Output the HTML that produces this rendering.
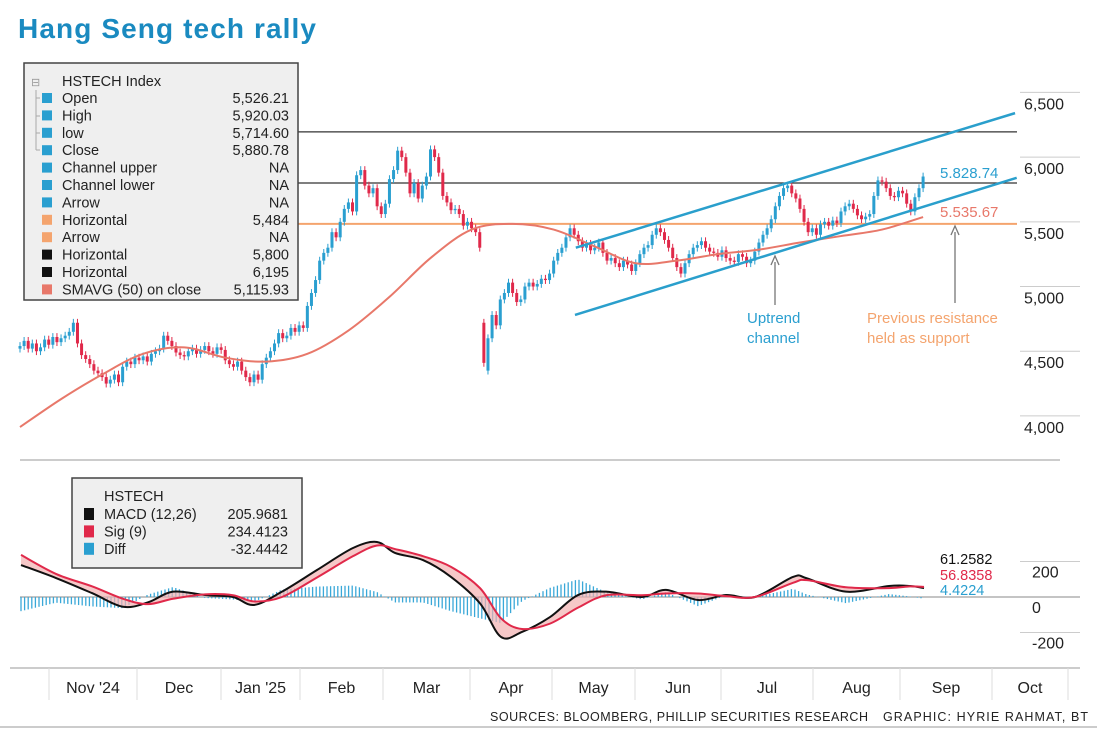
<!DOCTYPE html>
<html><head><meta charset="utf-8">
<style>
html,body{margin:0;padding:0;background:#fff;}
body{width:1097px;height:731px;overflow:hidden;font-family:"Liberation Sans",sans-serif;}
svg text{font-family:"Liberation Sans",sans-serif;}
</style></head>
<body>
<svg id="chart" width="1097" height="731" viewBox="0 0 1097 731" xmlns="http://www.w3.org/2000/svg">
<text x="18" y="38" font-size="28" font-weight="bold" fill="#1a8ac0" textLength="298">Hang Seng tech rally</text>
<g id="grid"></g>
<g id="price"></g>
<g id="macd"></g>
<g id="axes"></g>
<g id="legend"></g>
<g id="legend2"></g>
<text x="490" y="721" font-size="12.5" fill="#222" textLength="378">SOURCES: BLOOMBERG, PHILLIP SECURITIES RESEARCH</text>
<text x="883" y="721" font-size="12.5" fill="#222" textLength="205">GRAPHIC: HYRIE RAHMAT, BT</text>
</svg>
<script>
const closes=[4540,4580,4520,4560,4500,4530,4590,4550,4610,4570,
4600,4620,4650,4720,4560,4470,4440,4400,4350,4330,
4300,4250,4280,4320,4260,4380,4420,4400,4450,4430,
4460,4420,4480,4500,4520,4620,4580,4540,4490,4470,
4460,4500,4520,4480,4510,4540,4500,4480,4530,4510,
4430,4400,4380,4420,4350,4300,4260,4320,4280,4400,
4450,4500,4560,4640,4600,4620,4680,4650,4700,4680,
4850,4950,5050,5200,5260,5300,5420,5380,5500,5600,
5650,5580,5860,5900,5780,5720,5760,5620,5560,5640,
5830,5900,6050,6000,5880,5720,5800,5680,5780,5850,
6060,6000,5880,5700,5650,5590,5600,5560,5470,5500,
5450,5420,5300,4410,4600,4780,4700,4900,4950,5030,
4950,4880,4900,5000,5030,5000,5020,5060,5050,5100,
5200,5260,5300,5380,5450,5400,5350,5300,5330,5280,
5300,5340,5260,5200,5220,5180,5150,5200,5170,5120,
5180,5250,5300,5320,5400,5450,5420,5360,5300,5220,
5150,5100,5180,5250,5300,5320,5350,5300,5270,5260,
5230,5280,5220,5200,5190,5250,5230,5180,5200,5270,
5340,5400,5450,5520,5620,5700,5760,5780,5720,5680,
5600,5500,5420,5450,5400,5480,5500,5470,5510,5490,
5580,5620,5640,5600,5550,5520,5540,5560,5700,5820,
5810,5760,5700,5690,5740,5720,5640,5580,5690,5760,5850];
const firstOpen=4520;
const gapIdx=[113,114];
const gapOpens=[4720,4350];
const smaIdx=[0,10,20,30,40,50,60,70,80,90,100,110,120,130,140,150,160,170,180,190,200,210,220];
const smaVals=[3914,4130,4320,4480,4530,4450,4420,4480,4660,4920,5220,5440,5484,5440,5310,5180,5200,5250,5285,5340,5390,5440,5537];
const horizLevels=[6195,5800];
const supportLevel=5484;
const chanUpper=[[135.4,5300],[242.4,6340]];
const chanLower=[[135.2,4780],[242.8,5840]];
const priceTicks=[6500,6000,5500,5000,4500,4000];
const priceTickLabels=["6,500","6,000","5,500","5,000","4,500","4,000"];
const macdX=[21,56,92,123,148,173,205,233,254,282,317,353,377,395,423,451,480,501,522,550,578,606,642,666,698,726,755,793,807,846,889,910,924];
const macdVals=[180,107,22,-55,-30,30,11,0,-45,30,152,276,310,248,208,113,-36,-225,-197,-113,11,30,0,40,-17,11,0,113,105,30,62,62,50];
const sigVals=[237,130,60,-10,-40,-10,15,10,-25,0,110,230,290,270,230,170,50,-120,-180,-150,-60,10,10,20,20,5,0,80,95,55,50,60,57];
const macdTicks=[200,0,-200];
const monthBounds=[49,137,221,300,383,470,552,635,721,813,900,992,1068];
const monthLabels=["Nov '24","Dec","Jan '25","Feb","Mar","Apr","May","Jun","Jul","Aug","Sep","Oct"];

const NS="http://www.w3.org/2000/svg";
const xI=i=>20+i*4.105;
const yP=v=>183-(v-5800)*0.1294;
const yM=v=>597-v*0.1775;
function mk(tag,attrs,parent,text){const e=document.createElementNS(NS,tag);for(const k in attrs)e.setAttribute(k,attrs[k]);if(text!==undefined)e.textContent=text;parent.appendChild(e);return e;}
const grid=document.getElementById('grid'),price=document.getElementById('price'),macd=document.getElementById('macd'),axes=document.getElementById('axes');

let l=mk('line',{x1:20,y1:460,x2:1060,y2:460,stroke:'#bbb','stroke-width':1.5},grid);


priceTicks.forEach((v,k)=>{
 let g=mk('line',{x1:1020,y1:yP(v),x2:1080,y2:yP(v),stroke:'#ccc','stroke-width':1},grid);
 
 
 let t=mk('text',{x:1024,y:yP(v)+17,'font-size':16,fill:'#222'},axes,priceTickLabels[k]);
 
 
});
horizLevels.forEach(v=>{
 let h=mk('line',{x1:24,y1:yP(v),x2:1017,y2:yP(v),stroke:'#333','stroke-width':1.3},price);
 
 
});
let s=mk('line',{x1:24,y1:yP(supportLevel),x2:1017,y2:yP(supportLevel),stroke:'#f4a46e','stroke-width':2},price);


function smooth(pts){let d=`M${pts[0][0]},${pts[0][1]}`;for(let i=0;i<pts.length-1;i++){const p0=pts[Math.max(0,i-1)],p1=pts[i],p2=pts[i+1],p3=pts[Math.min(pts.length-1,i+2)];d+=` C${p1[0]+(p2[0]-p0[0])/6},${p1[1]+(p2[1]-p0[1])/6} ${p2[0]-(p3[0]-p1[0])/6},${p2[1]-(p3[1]-p1[1])/6} ${p2[0]},${p2[1]}`;}return d;}
let prev=firstOpen;
closes.forEach((c,i)=>{
 let o=prev;prev=c;
 const gi=gapIdx.indexOf(i); if(gi>=0)o=gapOpens[gi];
 const up=c>=o, col=up?'#2a9fd0':'#e0294a';
 const hi=Math.max(o,c)+30, lo=Math.min(o,c)-30, x=xI(i);
 let w=mk('line',{x1:x,y1:yP(hi),x2:x,y2:yP(lo),stroke:col,'stroke-width':1},price);
 
 
 let b=mk('rect',{x:x-1.5,y:yP(Math.max(o,c)),width:3,height:Math.max(1,Math.abs(yP(o)-yP(c))),fill:col},price);
 
 
});
let sp=mk('path',{d:smooth(smaIdx.map((i,k)=>[xI(i),yP(smaVals[k])])),fill:'none',stroke:'#e8786a','stroke-width':2},price);


[chanUpper,chanLower].forEach((c,k)=>{
 let cl=mk('line',{x1:xI(c[0][0]),y1:yP(c[0][1]),x2:xI(c[1][0]),y2:yP(c[1][1]),stroke:'#2a9fcc','stroke-width':2.5},price);
 
 
});
[[775,305,256],[955,303,226]].forEach(a=>{
 let g=mk('g',{},price);
 
 
 mk('line',{x1:a[0],y1:a[1],x2:a[0],y2:a[2]+6,stroke:'#777','stroke-width':1.3},g);
 mk('path',{d:`M${a[0]-4},${a[2]+9} L${a[0]},${a[2]} L${a[0]+4},${a[2]+9}`,fill:'none',stroke:'#777','stroke-width':1.3},g);
});
const ann=[[747,323,'Uptrend','#2a9fd0'],[747,343,'channel','#2a9fd0'],[867,323,'Previous resistance','#f4a46e'],[867,343,'held as support','#f4a46e'],[940,178,'5.828.74','#2a9fd0'],[940,217,'5.535.67','#e8786a']];
ann.forEach(a=>{let t=mk('text',{x:a[0],y:a[1],'font-size':15,fill:a[3]},price,a[2]);
 
 });

macdTicks.forEach(v=>{
 let g=mk('line',{x1:v===0?20:1020,y1:yM(v),x2:1080,y2:yM(v),stroke:v===0?'#888':'#ccc','stroke-width':1},grid);
 
 
 let t=mk('text',{x:1032,y:yM(v)+16,'font-size':16,fill:'#222'},axes,String(v));
 
 
});
function interp(arr,x){for(let k=0;k<macdX.length-1;k++){if(x>=macdX[k]&&x<=macdX[k+1]){const t=(x-macdX[k])/(macdX[k+1]-macdX[k]);return arr[k]+t*(arr[k+1]-arr[k]);}}return arr[arr.length-1];}
for(let x=21;x<=924;x+=3.6){
 const d=interp(macdVals,x)-interp(sigVals,x);
 let b=mk('line',{x1:x,y1:yM(0),x2:x,y2:yM(d*1.4),stroke:'#3aa8d8','stroke-width':1.3},macd);
 
 
}
const mPts=macdX.map((x,k)=>[x,yM(macdVals[k])]), sPts=macdX.map((x,k)=>[x,yM(sigVals[k])]);
let fillD=smooth(mPts)+' L'+smooth(sPts.slice().reverse()).slice(1)+' Z';
let fa=mk('path',{d:fillD,fill:'#f2b0b0','fill-opacity':0.7,stroke:'none'},macd);


let mp=mk('path',{d:smooth(mPts),fill:'none',stroke:'#111','stroke-width':2},macd);


let sg=mk('path',{d:smooth(sPts),fill:'none',stroke:'#e0294a','stroke-width':2},macd);


[[564,'61.2582','#111'],[580,'56.8358','#e0294a'],[595,'4.4224','#2a9fd0']].forEach(a=>{
 let t=mk('text',{x:940,y:a[0],'font-size':14.5,fill:a[2]},macd,a[1]);
 
 });

let ax=mk('line',{x1:10,y1:668,x2:1080,y2:668,stroke:'#bbb','stroke-width':1.5},axes);


let bl=mk('line',{x1:0,y1:727,x2:1097,y2:727,stroke:'#bbb','stroke-width':1.5},axes);


monthBounds.forEach((x,k)=>{
 let t=mk('line',{x1:x,y1:668,x2:x,y2:700,stroke:'#ddd','stroke-width':1},axes);
 
 
 if(k<monthLabels.length){
  let tl=mk('text',{x:(x+monthBounds[k+1])/2,y:693,'font-size':16,fill:'#222','text-anchor':'middle'},axes,monthLabels[k]);
  
  
 }
});

const lg=document.getElementById('legend');
mk('rect',{x:24,y:63,width:274,height:237,fill:'#efefef',stroke:'#444','stroke-width':1.5},lg);
mk('text',{x:31,y:86,'font-size':11,fill:'#999'},lg,'⊟');
mk('text',{x:62,y:86,'font-size':14.5,fill:'#222'},lg,'HSTECH Index');
mk('path',{d:'M36,90 V150 M36,98 H40 M36,116 H40 M36,133 H40 M36,150 H40',stroke:'#aaa',fill:'none'},lg);
const legRows=[['Open','5,526.21','#2a9fd0'],['High','5,920.03','#2a9fd0'],['low','5,714.60','#2a9fd0'],['Close','5,880.78','#2a9fd0'],['Channel upper','NA','#2a9fd0'],['Channel lower','NA','#2a9fd0'],['Arrow','NA','#2a9fd0'],['Horizontal','5,484','#f4a46e'],['Arrow','NA','#f4a46e'],['Horizontal','5,800','#111'],['Horizontal','6,195','#111'],['SMAVG (50) on close','5,115.93','#e8786a']];
legRows.forEach((r,k)=>{
 const y=98+k*17.4;
 let g=mk('g',{},lg);
 
 
 mk('rect',{x:42,y:y-5,width:10,height:10,fill:r[2]},g);
 mk('text',{x:62,y:y+5,'font-size':14.5,fill:'#222'},g,r[0]);
 mk('text',{x:289,y:y+5,'font-size':14.5,fill:'#222','text-anchor':'end'},g,r[1]);
});
const lg2=document.getElementById('legend2');
mk('rect',{x:72,y:478,width:230,height:90,fill:'#efefef',stroke:'#444','stroke-width':1.5},lg2);
mk('text',{x:104,y:501,'font-size':14.5,fill:'#222'},lg2,'HSTECH');
[['MACD (12,26)','205.9681','#111'],['Sig (9)','234.4123','#e0294a'],['Diff','-32.4442','#2a9fd0']].forEach((r,k)=>{
 const y=514+k*17.4;
 let g=mk('g',{},lg2);
 
 
 mk('rect',{x:84,y:y-6,width:10,height:12,fill:r[2]},g);
 mk('text',{x:104,y:y+5,'font-size':14.5,fill:'#222'},g,r[0]);
 mk('text',{x:288,y:y+5,'font-size':14.5,fill:'#222','text-anchor':'end'},g,r[1]);
});
</script>
</body></html>
